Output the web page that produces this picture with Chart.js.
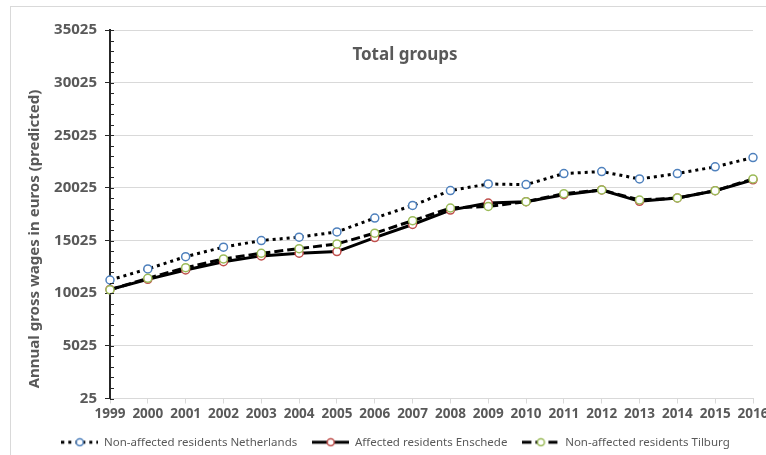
<!DOCTYPE html>
<html>
<head>
<meta charset="utf-8">
<script src="https://cdn.jsdelivr.net/npm/chart.js@4.4.1/dist/chart.umd.min.js"></script>
<style>
html, body { margin: 0; padding: 0; background: #fff; overflow: hidden; }
#frame { position: absolute; left: 10px; top: 6px; width: 800px; height: 500px; border: 1px solid #d9d9d9; }
#wrap { position: absolute; left: 0; top: 0; width: 766px; height: 455px; }
</style>
</head>
<body>
<div id="frame"></div>
<div id="wrap"><canvas id="wages" width="766" height="455"></canvas></div>
<script>
const years = ['1999', '2000', '2001', '2002', '2003', '2004', '2005', '2006', '2007',
    '2008', '2009', '2010', '2011', '2012', '2013', '2014', '2015', '2016'];

const netherlands = [11280, 12330, 13500, 14400, 15030, 15350, 15850, 17160, 18360,
    19770, 20400, 20340, 21390, 21580, 20880, 21390, 22030, 22910];
const enschede = [10380, 11340, 12230, 13020, 13570, 13820, 13980, 15310, 16550,
    17920, 18590, 18720, 19380, 19830, 18750, 19070, 19760, 20790];
const tilburg = [10350, 11440, 12450, 13280, 13820, 14260, 14710, 15730, 16910,
    18120, 18270, 18720, 19480, 19830, 18880, 19070, 19760, 20880];

const yTicks = [25, 5025, 10025, 15025, 20025, 25025, 30025, 35025];
const minorStep = 1000;

const seriesNames = ['Non-affected residents Netherlands', 'Affected residents Enschede', 'Non-affected residents Tilburg'];
const markerColors = ['#4f81bd', '#c0504d', '#9bbb59'];
const dashes = [[3, 4], [], [9, 4]];

const grey = '#595959';
const sampleW = 37;

// little line+marker picture for the legend
function legendSample(dash, color) {
    const c = document.createElement('canvas');
    c.width = sampleW;
    c.height = 10;
    const g = c.getContext('2d');
    g.strokeStyle = '#000';
    g.lineWidth = 3;
    g.setLineDash(dash);
    g.beginPath();
    g.moveTo(0, 5);
    g.lineTo(sampleW, 5);
    g.stroke();
    g.setLineDash([]);
    g.fillStyle = '#fff';
    g.strokeStyle = color;
    g.lineWidth = 1.5;
    g.beginPath();
    g.arc(sampleW / 2, 5, 3.5, 0, Math.PI * 2);
    g.fill();
    g.stroke();
    return c;
}
const samples = dashes.map((d, i) => legendSample(d, markerColors[i]));

const axisMarks = {
    id: 'axisMarks',
    afterDraw(chart) {
        const { ctx, chartArea, scales: { y } } = chart;
        ctx.save();
        ctx.strokeStyle = '#262626';
        ctx.lineWidth = 1;
        for (let v = yTicks[0]; v <= yTicks[yTicks.length - 1]; v += minorStep) {
            const py = Math.round(y.getPixelForValue(v)) + 0.5;
            ctx.beginPath();
            ctx.moveTo(chartArea.left, py);
            ctx.lineTo(chartArea.left + 4, py);
            ctx.stroke();
        }

        ctx.fillStyle = grey;
        ctx.textAlign = 'center';
        ctx.textBaseline = 'middle';
        ctx.font = 'bold 17px "Noto Sans"';
        ctx.fillText('Total groups', 405, 55);

        ctx.translate(35, 239);
        ctx.rotate(-Math.PI / 2);
        ctx.font = 'bold 15px "Noto Sans"';
        ctx.fillText('Annual gross wages in euros (predicted)', 0, 0);
        ctx.restore();
    }
};

const ctx = document.getElementById('wages').getContext('2d');

new Chart(ctx, {
    type: 'line',
    data: {
        labels: years,
        datasets: [netherlands, enschede, tilburg].map((values, i) => ({
            label: seriesNames[i],
            data: values,
            borderColor: '#000',
            borderWidth: 3,
            borderDash: dashes[i],
            pointRadius: 4,
            pointBorderWidth: 1.5,
            pointBorderColor: markerColors[i],
            pointBackgroundColor: '#fff',
            tension: 0,
            order: 2 - i
        }))
    },
    options: {
        responsive: false,
        animation: false,
        layout: { padding: { left: 25, right: 0, top: 30, bottom: -3 } },
        scales: {
            x: {
                type: 'category',
                offset: false,
                grid: { display: true, drawOnChartArea: false, tickLength: 5, tickColor: '#d9d9d9' },
                border: { color: '#d9d9d9', width: 1 },
                ticks: {
                    autoSkip: false,
                    maxRotation: 0,
                    padding: 3,
                    color: grey,
                    font: { family: 'Noto Sans', size: 13.5, weight: 'bold' }
                },
                afterFit(scale) {
                    scale.height = 23;
                    scale.paddingLeft = 0;
                    scale.paddingRight = 13;
                }
            },
            y: {
                min: yTicks[0],
                max: yTicks[yTicks.length - 1],
                afterBuildTicks(scale) {
                    scale.ticks = yTicks.map(v => ({ value: v }));
                },
                grid: { color: '#d9d9d9', tickColor: '#262626', tickLength: 5 },
                border: { color: '#262626', width: 2 },
                ticks: {
                    padding: 8,
                    color: grey,
                    font: { family: 'Noto Sans', size: 15, weight: 'bold' },
                    callback: v => String(v)
                },
                afterFit(scale) {
                    scale.width = 85;
                }
            }
        },
        plugins: {
            legend: {
                position: 'bottom',
                labels: {
                    usePointStyle: true,
                    pointStyleWidth: sampleW,
                    boxHeight: 10,
                    padding: 15,
                    color: grey,
                    font: { family: 'Noto Sans', size: 11.5 },
                    sort: (a, b) => a.datasetIndex - b.datasetIndex,
                    generateLabels(chart) {
                        const items = Chart.defaults.plugins.legend.labels.generateLabels(chart);
                        items.forEach(it => { it.pointStyle = samples[it.datasetIndex]; });
                        return items;
                    }
                }
            },
            tooltip: { enabled: false }
        }
    },
    plugins: [axisMarks]
});
</script>
</body>
</html>
